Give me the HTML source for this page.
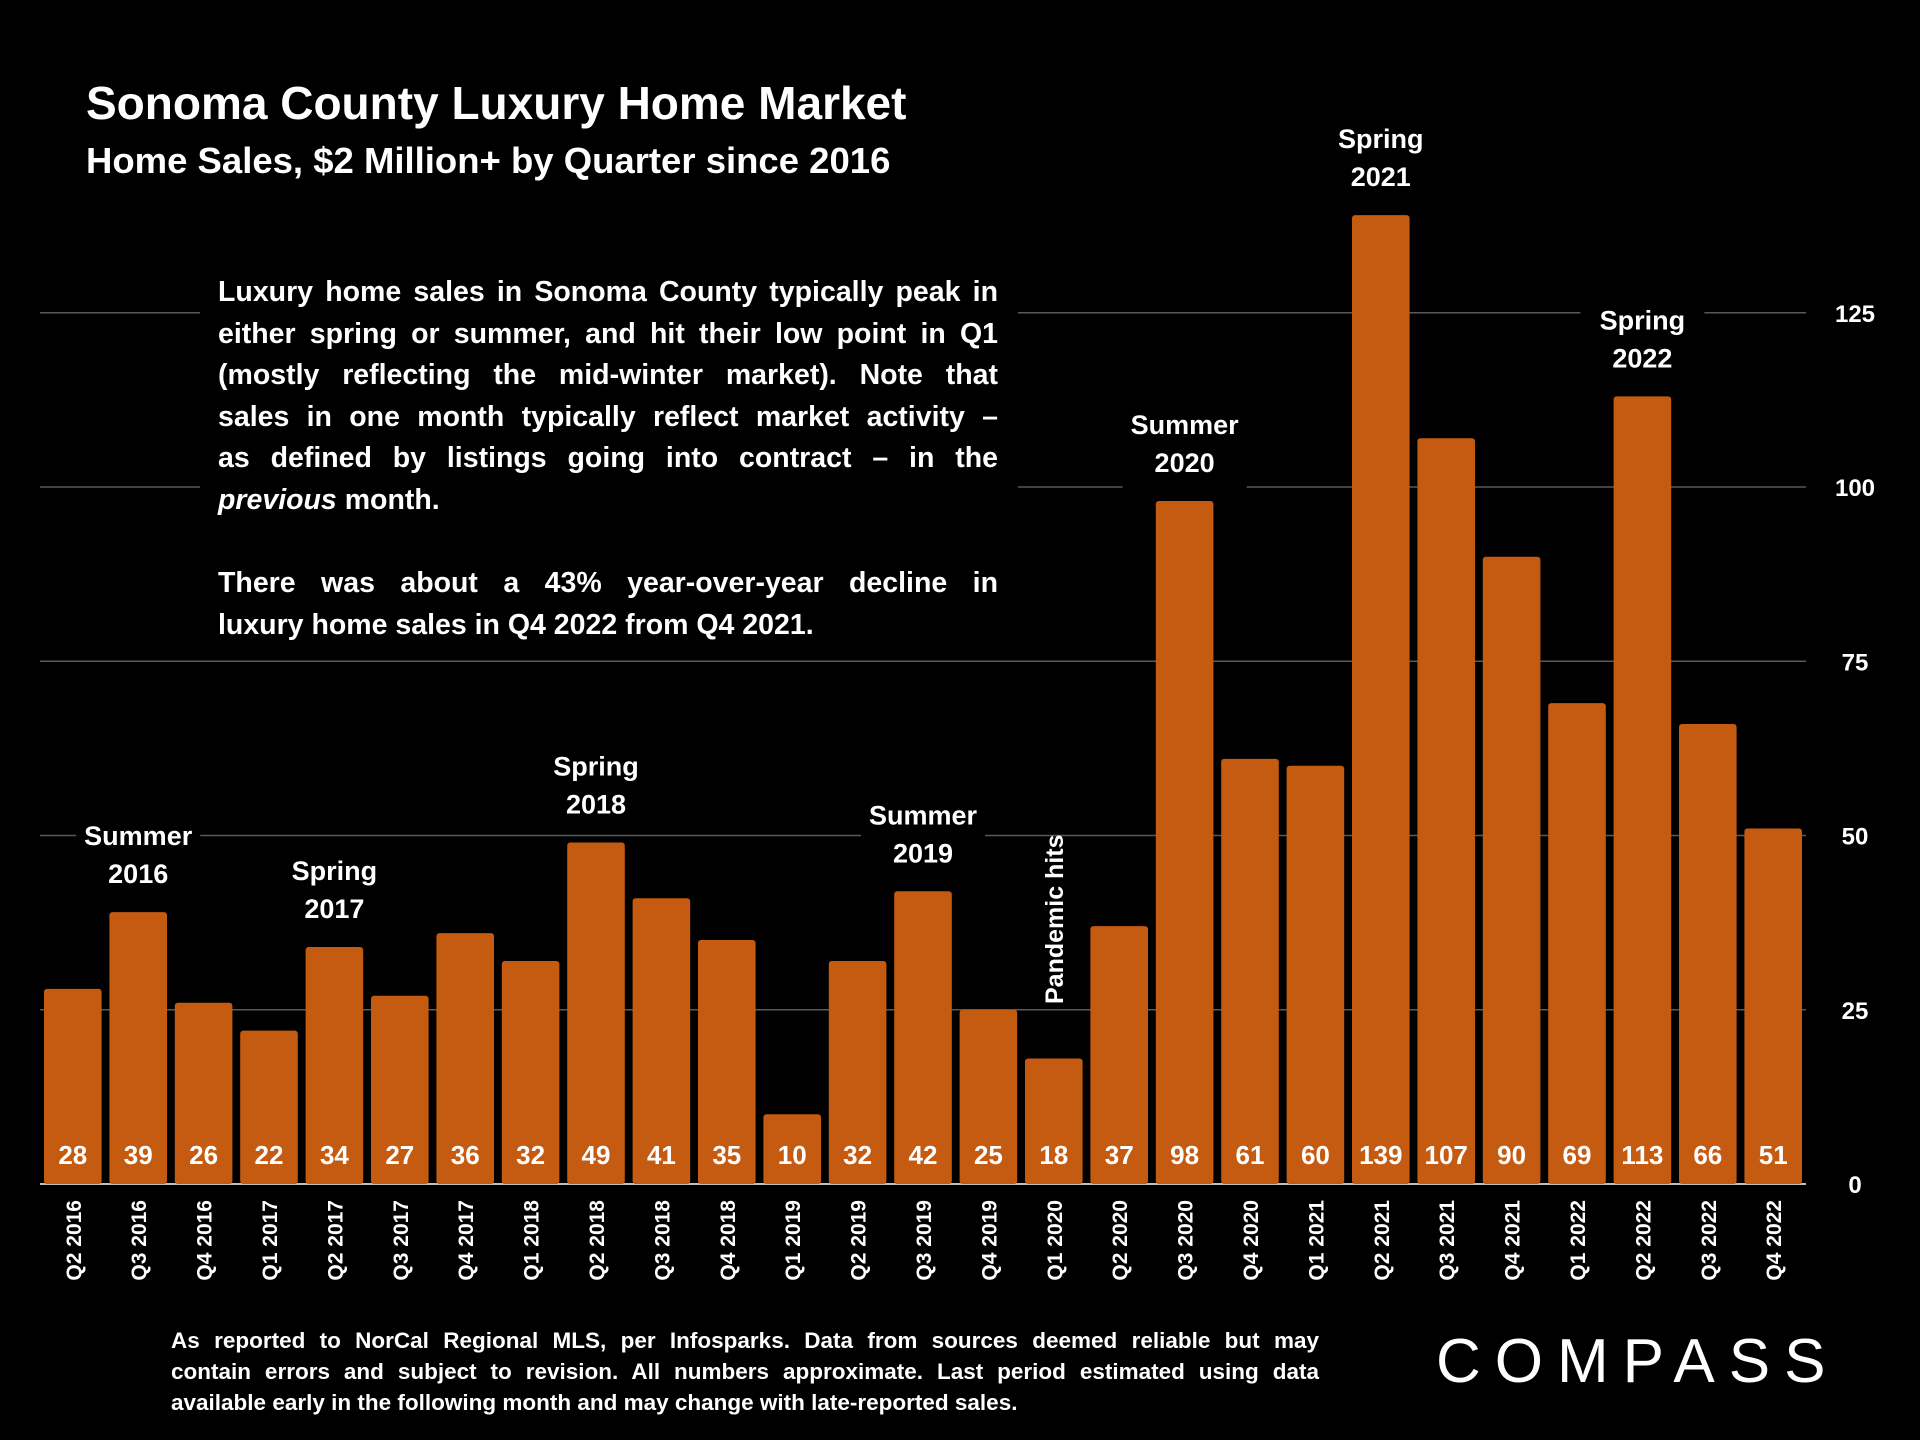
<!DOCTYPE html>
<html><head><meta charset="utf-8">
<style>
html,body{margin:0;padding:0;background:#000;}
body{width:1920px;height:1440px;overflow:hidden;position:relative;font-family:"Liberation Sans",sans-serif;color:#fff;}
.t{position:absolute;font-weight:bold;}
.j{display:block;text-align:justify;text-align-last:justify;white-space:nowrap;}
.l{display:block;white-space:nowrap;}
</style></head>
<body>
<div class="t" style="left:86px;top:76px;font-size:46px;">Sonoma County Luxury Home Market</div>
<div class="t" style="left:86px;top:140px;font-size:36.5px;">Home Sales, $2 Million+ by Quarter since 2016</div>
<svg id="chart" width="1920" height="1440" style="position:absolute;left:0;top:0;"></svg>
<div style="position:absolute;left:200px;top:270px;width:818px;height:380px;background:#000;"></div>
<div class="t" style="left:218px;top:272px;width:780px;font-size:28.5px;line-height:41.6px;">
<span class="j">Luxury home sales in Sonoma County typically peak in</span>
<span class="j">either spring or summer, and hit their low point in Q1</span>
<span class="j">(mostly reflecting the mid-winter market). Note that</span>
<span class="j">sales in one month typically reflect market activity –</span>
<span class="j">as defined by listings going into contract – in the</span>
<span class="l"><i>previous</i> month.</span>
<span class="l">&nbsp;</span>
<span class="j">There was about a 43% year-over-year decline in</span>
<span class="l">luxury home sales in Q4 2022 from Q4 2021.</span>
</div>
<div class="t" style="left:171px;top:1325px;width:1148px;font-size:22.5px;line-height:31px;">
<span class="j">As reported to NorCal Regional MLS, per Infosparks. Data from sources deemed reliable but may</span>
<span class="j">contain errors and subject to revision. All numbers approximate. Last period estimated using data</span>
<span class="l">available early in the following month and may change with late-reported sales.</span>
</div>
<div style="position:absolute;left:1436px;top:1326px;font-size:62px;letter-spacing:14px;font-family:'Liberation Sans',sans-serif;">COMPASS</div>
<script>
const categories=["Q2 2016","Q3 2016","Q4 2016","Q1 2017","Q2 2017","Q3 2017","Q4 2017","Q1 2018","Q2 2018","Q3 2018","Q4 2018","Q1 2019","Q2 2019","Q3 2019","Q4 2019","Q1 2020","Q2 2020","Q3 2020","Q4 2020","Q1 2021","Q2 2021","Q3 2021","Q4 2021","Q1 2022","Q2 2022","Q3 2022","Q4 2022"];
const sales=[28,39,26,22,34,27,36,32,49,41,35,10,32,42,25,18,37,98,61,60,139,107,90,69,113,66,51];
const ticks=[0,25,50,75,100,125];
const annotations=[["Summer","2016",1],["Spring","2017",4],["Spring","2018",8],["Summer","2019",13],["Summer","2020",17],["Spring","2021",20],["Spring","2022",24]];
const NS="http://www.w3.org/2000/svg";
const svg=document.getElementById('chart');
const y0=1184,pxPer=6.97,x0=44,step=65.4,bw=57.6;
const yS=v=>y0-v*pxPer;
const xS=i=>x0+i*step;
function mk(tag,attrs,parent){const e=document.createElementNS(NS,tag);for(const k in attrs)e.setAttribute(k,attrs[k]);(parent||svg).appendChild(e);return e;}
ticks.forEach(t=>{
  if(t>0){const g=mk('line',{x1:40,x2:1806,y1:yS(t),y2:yS(t),stroke:'#595959','stroke-width':1.5});
  
  }
  const l=mk('text',{x:1855,y:yS(t)+9,'text-anchor':'middle',fill:'#fff','font-size':24,'font-weight':'bold','font-family':'Liberation Sans, sans-serif'});
  l.textContent=t;
  
  
});
const ax=mk('line',{x1:40,x2:1806,y1:y0,y2:y0,stroke:'#bfbfbf','stroke-width':2});


sales.forEach((v,i)=>{
  const r=mk('rect',{x:xS(i),y:yS(v),width:bw,height:v*pxPer,fill:'#C55A11',rx:3});
  
  
  const t=mk('text',{x:xS(i)+bw/2,y:1164,'text-anchor':'middle',fill:'#fff','font-size':26,'font-weight':'bold','font-family':'Liberation Sans, sans-serif'});
  t.textContent=v;
  
  
  const c=mk('text',{transform:`translate(${xS(i)+bw/2+8},1200) rotate(-90)`,'text-anchor':'end',fill:'#fff','font-size':21,'font-weight':'bold','font-family':'Liberation Sans, sans-serif'});
  c.textContent=categories[i];
  
  
});
annotations.forEach(a=>{
  const i=a[2],cx=xS(i)+bw/2,top=yS(sales[i]);
  const g=mk('g',{});
  
  
  mk('rect',{x:cx-62,y:top-100,width:124,height:88,fill:'#000'},g);
  [a[0],a[1]].forEach((s,k)=>{const t=mk('text',{x:cx,y:top-67+k*38,'text-anchor':'middle',fill:'#fff','font-size':27,'font-weight':'bold','font-family':'Liberation Sans, sans-serif'},g);t.textContent=s;});
});
const p=mk('text',{transform:`translate(${xS(15)+bw/2+9},1004) rotate(-90)`,'text-anchor':'start',fill:'#fff','font-size':25,'font-weight':'bold','font-family':'Liberation Sans, sans-serif'});
p.textContent='Pandemic hits';


</script>
</body></html>
